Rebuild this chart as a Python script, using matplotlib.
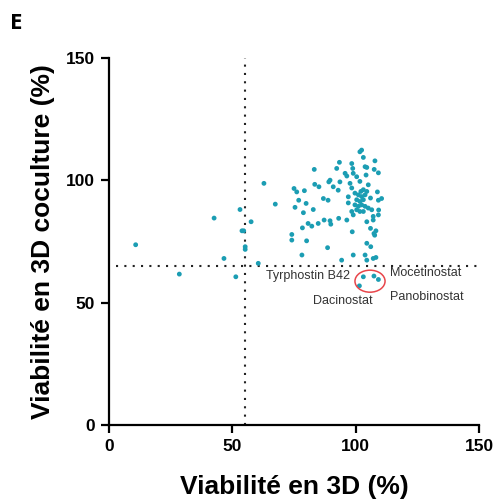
import matplotlib
matplotlib.use("Agg")
import matplotlib.pyplot as plt
from matplotlib.patches import Ellipse

plt.rcParams['font.family'] = ['Liberation Sans', 'DejaVu Sans']

# Viability of each compound: 3D monoculture (x) vs 3D coculture (y), in %
viab_3d = [
    10.8, 42.6, 46.6, 28.5, 51.4, 53.1, 53.9, 54.6, 57.6, 55.2, 55.2, 62.8, 60.5,
    67.4, 74.1, 74.1, 78.2, 80.1, 78.4, 75.0, 76.1, 79.2, 76.9, 75.4, 78.8, 79.9,
    80.7, 82.2, 82.8, 83.2, 83.4, 85.1, 84.8, 86.9, 87.2, 89.6, 89.9, 89.1, 89.6,
    88.6, 88.8, 90.9, 92.3, 93.4, 92.9, 93.1, 93.6, 94.3, 95.7, 96.4, 96.4, 97.0,
    97.0, 97.7, 98.4, 98.8, 99.0, 98.6, 99.0, 100.4, 101.7, 102.4, 103.1, 103.8,
    104.5, 104.2, 104.5, 104.5, 103.8, 104.5, 106.1, 106.0, 107.1, 107.8, 107.5,
    109.2, 108.8, 109.2, 110.5, 109.3, 108.2, 107.4, 107.7, 107.1, 108.2,
    101.7, 102.1, 103.1, 104.5, 101.1, 102.4, 103.8, 100.4, 101.7, 103.1, 99.7,
    101.1, 102.4, 103.8, 100.4, 101.7, 103.1, 98.4, 105.1, 106.5, 107.1, 109.2,
    99.0, 98.4, 106.0, 105.1, 99.7,
    103.1, 107.4, 109.2, 101.5,
]
viab_coculture = [
    73.7, 84.6, 68.1, 61.7, 60.6, 88.1, 79.4, 79.4, 83.1, 72.9, 71.8, 98.8, 66.1,
    90.3, 77.9, 75.6, 69.5, 75.3, 80.6, 96.7, 95.3, 95.8, 91.9, 89.0, 86.8, 90.6,
    82.4, 81.3, 88.1, 104.5, 98.4, 97.4, 82.4, 92.6, 83.8, 83.5, 82.1, 99.4, 100.1,
    72.5, 91.9, 97.4, 104.9, 107.4, 96.0, 84.5, 99.4, 67.4, 102.9, 101.8, 83.8, 93.3,
    90.8, 98.8, 106.9, 104.9, 102.9, 79.0, 69.5, 101.5, 111.7, 112.4, 109.4, 105.6,
    105.3, 102.2, 83.1, 74.3, 69.5, 67.4, 72.9, 80.4, 83.8, 108.0, 104.5,
    103.1, 95.3, 91.9, 92.6, 87.9, 79.4, 78.3, 77.6, 68.1, 68.5,
    99.6, 95.5, 96.2, 95.5, 94.1, 93.4, 94.1, 92.1, 91.4, 92.1, 90.0,
    89.4, 90.0, 89.4, 88.0, 87.3, 87.3, 87.3, 88.7, 88.0, 85.3, 85.9,
    85.9, 96.9, 92.8, 98.2, 94.8,
    60.6, 60.9, 59.5, 56.9,
]

x_cut = 55.2
y_cut = 65.0

fig = plt.figure(figsize=(4.96, 5.04), dpi=100)
ax = fig.add_axes([0.2198, 0.1567, 0.746, 0.728])

ax.scatter(viab_3d, viab_coculture, s=12, color='#1b9db3', edgecolors='none', zorder=3)

# threshold lines
dot = (0, (1, 3))
ax.plot([x_cut, x_cut], [0, 150], color='#222222', lw=1.5, linestyle=dot, zorder=2)
ax.plot([3, 150], [y_cut, y_cut], color='#222222', lw=1.5, linestyle=dot, zorder=2)

# highlighted HDAC inhibitors
ax.add_patch(Ellipse((105.8, 58.8), 12.2, 9.0, fill=False, edgecolor='#e8464b', lw=1.1, zorder=4))
lab_kw = dict(fontsize=9, color='#333333', zorder=5)
ax.text(97.7, 60.9, 'Tyrphostin B42', ha='right', va='center', **lab_kw)
ax.text(113.9, 62.1, 'Mocetinostat', ha='left', va='center', **lab_kw)
ax.text(113.9, 52.3, 'Panobinostat', ha='left', va='center', **lab_kw)
ax.text(94.9, 50.7, 'Dacinostat', ha='center', va='center', **lab_kw)

ax.set_xlim(0, 150)
ax.set_ylim(0, 150)
ax.set_xticks([0, 50, 100, 150])
ax.set_yticks([0, 50, 100, 150])
for s in ('top', 'right'):
    ax.spines[s].set_visible(False)
for s in ('left', 'bottom'):
    ax.spines[s].set_linewidth(1.6)
ax.tick_params(width=1.6, length=6, labelsize=12.5, direction='out', pad=4)
for t in ax.get_xticklabels() + ax.get_yticklabels():
    t.set_fontweight('bold')

ax.set_xlabel('Viabilité en 3D (%)', fontsize=19, fontweight='bold', labelpad=15)
ax.set_ylabel('Viabilité en 3D coculture (%)', fontsize=19, fontweight='bold', labelpad=8)

fig.text(0.02, 0.974, 'E', fontsize=16, fontweight='bold', va='top', ha='left',
         family=['Open Sans', 'DejaVu Sans'])

fig.savefig('out.png', dpi=100)
